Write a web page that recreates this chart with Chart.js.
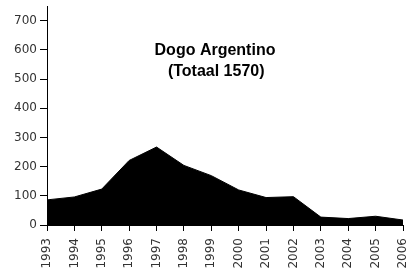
<!DOCTYPE html>
<html>
<head>
<meta charset="utf-8">
<script src="https://cdn.jsdelivr.net/npm/chart.js@4.4.0/dist/chart.umd.min.js"></script>
<style>
  html,body{margin:0;padding:0;background:#fff;}
  #wrap{width:409px;height:268px;position:relative;}
</style>
</head>
<body>
<div id="wrap"><canvas id="chart" width="409" height="268"></canvas></div>
<script>
/* data */
const years  = ['1993','1994','1995','1996','1997','1998','1999','2000','2001','2002','2003','2004','2005','2006'];
const aantal = [86, 96, 123, 221, 267, 204, 169, 120, 94, 97, 27, 22, 30, 17];
const titleLines = ['Dogo Argentino', ' (Totaal 1570)'];
const yMax = 750, yStep = 100;

/* title inside plot */
const titlePlugin = {
  id:'innerTitle',
  afterDraw(chart){
    const ctx = chart.ctx;
    ctx.save();
    ctx.font = 'bold 16px "Liberation Sans", Arial, sans-serif';
    ctx.fillStyle = '#000';
    ctx.textAlign = 'center';
    ctx.textBaseline = 'middle';
    ctx.fillText(titleLines[0], 215, 51);
    ctx.fillText(titleLines[1], 214, 72);
    ctx.restore();
  }
};

const axisFont = {family:'"DejaVu Sans", Verdana, sans-serif', size:12};

new Chart(document.getElementById('chart').getContext('2d'), {
  type:'line',
  data:{
    labels: years,
    datasets:[{
      data: aantal,
      fill:'origin',
      backgroundColor:'#000',
      borderColor:'#000',
      borderWidth:1,
      pointRadius:0,
      tension:0
    }]
  },
  options:{
    responsive:false,
    animation:false,
    layout:{padding:{top:6,right:6,left:0,bottom:0}},
    plugins:{legend:{display:false},tooltip:{enabled:false}},
    scales:{
      x:{
        offset:false,
        grid:{display:true,drawOnChartArea:false,drawTicks:true,tickLength:6,color:'#000'},
        border:{display:true,color:'#000',width:1},
        ticks:{color:'#333',font:axisFont,minRotation:90,maxRotation:90,autoSkip:false,padding:7},
        afterFit(s){ s.height = 43; s.paddingRight = 0; s.paddingLeft = 0; }
      },
      y:{
        min:0, max:yMax,
        afterBuildTicks(s){ s.ticks = s.ticks.filter(t=>t.value % yStep === 0); },
        grid:{display:true,drawOnChartArea:false,drawTicks:true,tickLength:7,color:'#000'},
        border:{display:true,color:'#000',width:1},
        ticks:{stepSize:yStep,color:'#333',font:axisFont,padding:3},
        afterFit(s){ s.width = 47; s.paddingTop = 0; s.paddingBottom = 0; }
      }
    }
  },
  plugins:[titlePlugin]
});
</script>
</body>
</html>
